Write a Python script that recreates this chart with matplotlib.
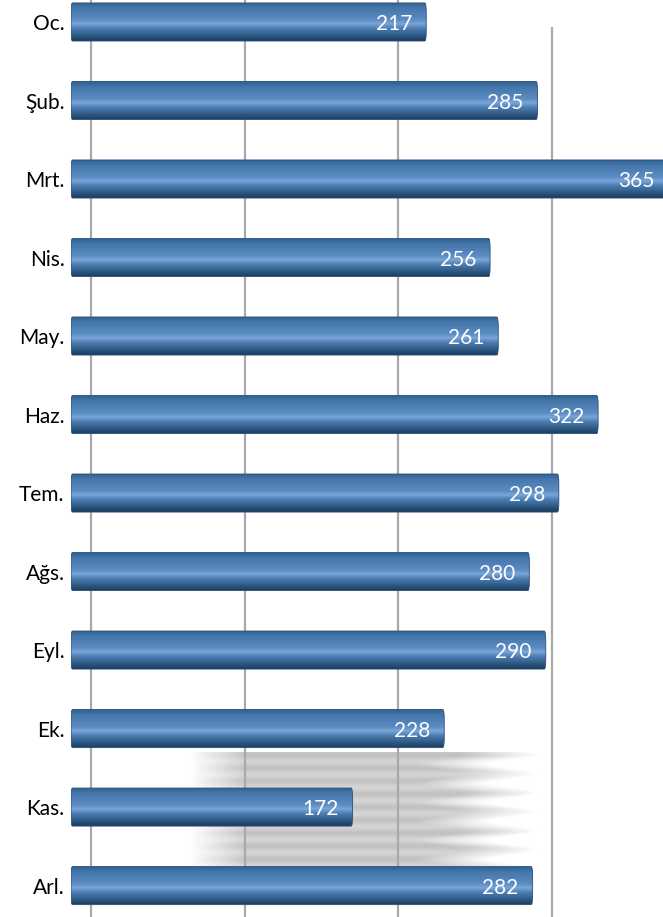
import numpy as np
import matplotlib
matplotlib.use("Agg")
import matplotlib.pyplot as plt
from matplotlib.colors import LinearSegmentedColormap
from matplotlib.patches import FancyBboxPatch

months = ["Oc.", "Şub.", "Mrt.", "Nis.", "May.", "Haz.", "Tem.", "Ağs.", "Eyl.", "Ek.", "Kas.", "Arl."]
values = [217, 285, 365, 256, 261, 322, 298, 280, 290, 228, 172, 282]
grid_positions = [12, 106, 200, 294]

W, H = 663, 917
fig = plt.figure(figsize=(W / 100, H / 100), dpi=100)
ax = fig.add_axes([71 / W, 0, 1 - 71 / W, 1])
XMAX = (W - 71) / 1.637
ax.set_xlim(0, XMAX)
ax.set_ylim(11.40, -0.28)
ax.axis("off")

# gridlines
for i, g in enumerate(grid_positions):
    top = -0.28 if i < 3 else (27 - 22) / 78.5
    ax.plot([g, g], [11.40, top], color="#a6aaad", lw=1.6, zorder=1, solid_capstyle="butt")

# soft shadow behind lower bars
sx0, sx1 = 70, 300
sy0, sy1 = 9.3, 10.75
nx, ny = 400, 160
xs = np.linspace(sx0, sx1, nx)
ys = np.linspace(sy0, sy1, ny)
phase = np.sin(ys * 2 * np.pi * 4.1) * 0.5 + 0.5
right_end = 255 + 30 * phase  # streak ends vary per row
left = np.clip((xs - 72) / 35, 0, 1)
alpha = np.zeros((ny, nx))
for r in range(ny):
    rfade = np.clip((right_end[r] - xs) / 45, 0, 1)
    alpha[r] = left * rfade
stripes = 0.85 + 0.15 * np.cos(ys * 2 * np.pi * 6.0)
alpha = alpha * stripes[:, None] * 0.85
rgba = np.zeros((ny, nx, 4))
rgba[..., :3] = 0.72
rgba[..., 3] = alpha
ax.imshow(rgba, extent=[sx0, sx1, sy1, sy0], aspect="auto", zorder=0.5, interpolation="bilinear")

# bar gradient
cmap = LinearSegmentedColormap.from_list("cyl", [
    (0.0, "#2f5f90"), (0.15, "#4677ab"), (0.45, "#5a8bc2"), (0.56, "#7aa6d8"),
    (0.68, "#4c7db2"), (0.88, "#2b557f"), (1.0, "#1c3d5f")])
grad = np.linspace(0, 1, 64).reshape(-1, 1)

font = ["Lato", "DejaVu Sans"]
bh = 0.485
for i, v in enumerate(values):
    y0, y1 = i - bh / 2, i + bh / 2
    patch = FancyBboxPatch((0.0, y0), v, bh, boxstyle="round,pad=0,rounding_size=0.9",
                           mutation_aspect=bh / 3.5, facecolor="none", edgecolor="none", zorder=2)
    ax.add_patch(patch)
    im = ax.imshow(grad, extent=[-1, v, y1, y0], aspect="auto", cmap=cmap, zorder=2,
                   interpolation="bilinear")
    im.set_clip_path(patch)
    ax.add_patch(FancyBboxPatch((0.0, y0), v, bh, boxstyle="round,pad=0,rounding_size=0.9",
                                mutation_aspect=bh / 3.5, facecolor="none",
                                edgecolor="#2a4f76", lw=0.6, zorder=3))
    ax.text(v - 8.5, i + 0.03, str(v), ha="right", va="center", color="white",
            fontsize=15, family=font, zorder=4)
    ax.text(-4, i + 0.03, months[i], ha="right", va="center", color="black",
            fontsize=15, family=font, clip_on=False, zorder=4)

fig.savefig("out.png", dpi=100)
